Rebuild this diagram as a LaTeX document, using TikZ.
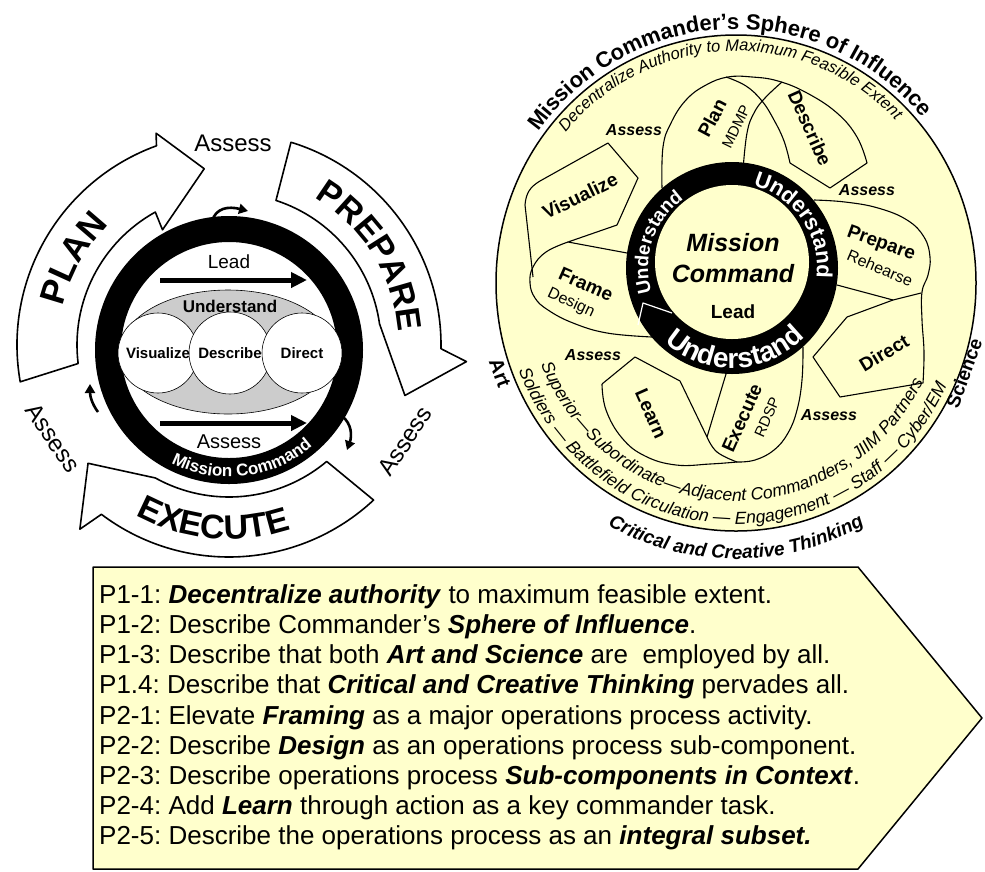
\documentclass[tikz,border=0pt]{standalone}
\usepackage{fontspec}
\setmainfont{Liberation Sans}
\usetikzlibrary{decorations.text,arrows.meta,calc}
\definecolor{pale}{RGB}{255,255,204}
\newcommand{\fsz}[1]{\fontsize{#1}{#1}\selectfont}
\newcommand{\bfit}[1]{\textbf{\textit{#1}}}
\begin{document}
\frenchspacing
\begin{tikzpicture}[x=1pt,y=1pt,line join=round,
  band/.style={draw=black,fill=white,line width=1.6},
  petal/.style={draw=black,line width=1.1},
  thickarrow/.style={line width=5,-{Triangle[length=16,width=15]}},
  ringarrow/.style={line width=2.6,-{Triangle[length=9,width=10]}},
  circ/.style={draw=black,fill=white,line width=0.6},
  boxline/.style={anchor=west,inner sep=0,font=\fsz{26}},
  asr/.style={font=\bfseries\itshape\fsz{16}},
  ptxt/.style={font=\bfseries\fsz{19}},
  psub/.style={font=\fsz{15}}]
\useasboundingbox (0,0) rectangle (985,-871);

% ================= LEFT DIAGRAM =================
\coordinate (C) at (229,-345);
\coordinate (R) at (229,-350);
% PLAN band
\draw[band] ($(C)+(190:212)$) arc[start angle=190,end angle=110,radius=212]
  -- ($(C)+(109:224)$) -- ($(C)+(98:178)$) -- ($(C)+(120:133)$) -- ($(C)+(119:152)$)
  arc[start angle=119,end angle=187,radius=152] -- cycle;
% PREPARE band
\draw[band] ($(C)+(73:212)$) arc[start angle=73,end angle=-1,radius=212]
  -- ($(C)+(-4:238)$) -- ($(C)+(-16:183)$) -- ($(C)+(8:152)$)
  arc[start angle=8,end angle=72,radius=152] -- cycle;
% EXECUTE band
\draw[band] ($(C)+(-47:212)$) arc[start angle=-47,end angle=-127,radius=212]
  -- ($(C)+(-129:237)$) -- ($(C)+(-140:184)$) -- ($(C)+(-119:152)$)
  arc[start angle=-119,end angle=-50,radius=152] -- cycle;
\path[decorate,decoration={text along path,text align=center,text={|\bfseries\fsz{35}|PLAN}}]
  ($(C)+(185:170)$) arc[start angle=185,end angle=117,radius=170];
\path[decorate,decoration={text along path,text align=center,text={|\bfseries\fsz{34}|PREPARE}}]
  ($(C)+(78:170)$) arc[start angle=78,end angle=-14,radius=170];
\path[decorate,decoration={text along path,text align=center,text={|\bfseries\fsz{34}|EXECUTE}}]
  ($(C)+(-140:194)$) arc[start angle=-140,end angle=-50,radius=194];

\node[font=\fsz{24}] (as1) at (233,-143) {Assess};
\node[font=\fsz{24},rotate=-56] (as2) at (53,-438) {Assess};
\node[font=\fsz{24},rotate=57] (as3) at (405,-441) {Assess};

% ring
\draw[line width=26] (R) circle[radius=121];
% ellipse + circles
\draw[fill=black!20,line width=0.6] (228,-352) ellipse[x radius=108,y radius=62];
\node[circ,circle,minimum size=80] (cv) at (158,-353) {};
\node[circ,circle,minimum size=82] (cd) at (230,-353) {};
\node[circ,circle,minimum size=80] (cr) at (302,-353) {};
\node[font=\bfseries\fsz{15}] at (cv) {Visualize};
\node[font=\bfseries\fsz{15}] at (cd) {Describe};
\node[font=\bfseries\fsz{15}] at (cr) {Direct};
\node[font=\bfseries\fsz{17}] (und) at (230,-306) {Understand};
\node[font=\fsz{19}] (lead) at (229,-262) {Lead};
\coordinate (la1) at (160,-280); \coordinate (la2) at (307,-280);
\draw[thickarrow] (la1) -- (la2);
\coordinate (aa1) at (160,-423); \coordinate (aa2) at (307,-423);
\draw[thickarrow] (aa1) -- (aa2);
\node[font=\fsz{20}] (as4) at (229,-442) {Assess};
\path[decorate,decoration={text along path,text align=center,text color=white,
  text={|\bfseries\fsz{17}|Mission Command}}]
  ($(R)+(-133:127)$) arc[start angle=-133,end angle=-33,radius=127];
% small ring arrows
\coordinate (t1) at (212,-221); \coordinate (t2) at (248,-211);
\draw[ringarrow] (t1) .. controls (216,-208) and (228,-206) .. (t2);
\coordinate (r1) at (342,-416); \coordinate (r2) at (347,-450);
\draw[ringarrow] (r1) .. controls (352,-424) and (352,-436) .. (r2);
\coordinate (l1) at (98,-412); \coordinate (l2) at (90,-384);
\draw[ringarrow] (l1) .. controls (92,-404) and (90,-396) .. (l2);

% ================= RIGHT DIAGRAM =================
\coordinate (E) at (736,-283);
\coordinate (Q) at (732,-268);
\draw[fill=pale,line width=1.5] (E) ellipse[x radius=240,y radius=248];
% petals
\draw[petal] (533,-277) -- (525,-205) .. controls (526,-193) and (530,-187) .. (540,-181)
  -- (608,-143) -- (638,-178) -- (617,-225) -- (568,-242) -- (627,-253);
\draw[petal] plot[smooth,tension=0.7] coordinates {(568,-242) (546,-252) (533,-267) (530,-283) (535,-298) (548,-310) (573,-323) (607,-333) (652,-337)};
\draw[petal] plot[smooth,tension=0.7] coordinates {(662,-188) (663,-147) (671,-123) (686,-100) (706,-85) (728,-77) (752,-77) (778,-81) (807,-93) (837,-113) (857,-137) (867,-163)} -- (830,-188) -- (790,-163);
\draw[petal] plot[smooth,tension=0.7] coordinates {(790,-163) (784,-141) (774,-120) (762,-101) (746,-86) (726,-77)};
\draw[petal] plot[smooth,tension=0.7] coordinates {(743,-170) (747,-133) (754,-113) (765,-98) (782,-82)};
\draw[petal] plot[smooth,tension=0.7] coordinates {(814,-200) (845,-202) (878,-208) (907,-220) (924,-237) (930,-257) (928,-275) (922,-292) (922,-320) (924,-352) (923,-383)} -- (840,-397) -- (813,-357) -- (847,-317) -- (893,-300);
\draw[petal] (837,-285) -- (893,-300) -- (921,-293);
\draw[petal] plot[smooth,tension=0.7] coordinates {(803,-347) (802,-380) (797,-410) (788,-433) (774,-450) (755,-460) (737,-462)};
\draw[petal] (726,-374) -- (707,-437);
\draw[petal] (707,-437) -- (680,-381) -- (635,-357) -- (602,-384);
\draw[petal] plot[smooth,tension=0.7] coordinates {(602,-384) (606,-410) (622,-438) (645,-456) (676,-465) (710,-464) (737,-462)};
\draw[petal] plot[smooth,tension=0.7] coordinates {(707,-437) (717,-452) (737,-462)};
% black ring
\fill[black] (Q) circle[radius=106];
\fill[pale] (732,-262) circle[radius=77];
\draw[white,line width=1.2] (638,-325) -- (643,-303) -- (672,-313);
\path[decorate,decoration={text along path,text align=center,text color=white,
  text={|\bfseries\fsz{22}|Understand}}]
  ($(Q)+(94:85)$) arc[start angle=94,end angle=-25,radius=85];
\path[decorate,decoration={text along path,text align=center,text color=white,
  text={|\bfseries\fsz{19}|Understand}}]
  ($(Q)+(221:84)$) arc[start angle=221,end angle=101,radius=84];
\path[decorate,decoration={text along path,text align=center,text color=white,
  text={|\bfseries\fsz{28}|Understand}}]
  ($(Q)+(-158:100)$) arc[start angle=-158,end angle=-18,radius=100];
% centre
\node[font=\bfseries\itshape\fsz{25}] (mis) at (733,-243) {Mission};
\node[font=\bfseries\itshape\fsz{25}] (cmd) at (733,-274) {Command};
\node[font=\bfseries\fsz{19}] (rlead) at (733,-312) {Lead};
% petal labels
\node[ptxt,rotate=26] (vis) at (580,-196) {Visualize};
\node[ptxt,rotate=62] (pln) at (712,-118) {Plan};
\node[psub,rotate=64] (mdmp) at (736,-127) {MDMP};
\node[ptxt,rotate=-66] (dsc) at (810,-128) {Describe};
\node[ptxt,rotate=-20] (prp) at (881,-244) {Prepare};
\node[psub,font=\fsz{16},rotate=-23] (reh) at (880,-268) {Rehearse};
\node[ptxt,rotate=-24] (frm) at (586,-284) {Frame};
\node[psub,font=\fsz{16},rotate=-25] (dsg) at (571,-303) {Design};
\node[ptxt,rotate=31] (dir) at (884,-353) {Direct};
\node[ptxt,rotate=-66] (lrn) at (651,-414) {Learn};
\node[ptxt,rotate=66] (exe) at (742,-418) {Execute};
\node[psub,rotate=66] (rdsp) at (767,-417) {RDSP};
\node[asr] (ra1) at (634,-130) {Assess};
\node[asr] (ra2) at (867,-190) {Assess};
\node[asr] (ra3) at (593,-355) {Assess};
\node[asr] (ra4) at (829,-415) {Assess};
% around texts
\path[decorate,decoration={text along path,text align=center,
  text={|\bfseries\fsz{22}|Mission Commander’s Sphere of Influence}}]
  ($(E)+(175:246 and 254)$) arc[start angle=175,end angle=9,x radius=246,y radius=254];
\path[decorate,decoration={text along path,text align=center,
  text={|\itshape\fsz{16.5}|Decentralize Authority to Maximum Feasible Extent}}]
  ($(E)+(170:224 and 232)$) arc[start angle=170,end angle=14,x radius=224,y radius=232];
\path[decorate,decoration={text along path,text align=center,
  text={|\itshape\fsz{17.5}|Superior—Subordinate—Adjacent Commanders, JIIM Partners}}]
  ($(E)+(-177:210 and 218)$) arc[start angle=-177,end angle=-8,x radius=210,y radius=218];
\path[decorate,decoration={text along path,text align=center,
  text={|\itshape\fsz{17.5}|Soldiers — Battlefield Circulation — Engagement — Staff — Cyber/EM}}]
  ($(E)+(-179:233 and 241)$) arc[start angle=-179,end angle=-5,x radius=233,y radius=241];
\path[decorate,decoration={text along path,text align=center,
  text={|\bfseries\itshape\fsz{19}|Critical and Creative Thinking}}]
  ($(E)+(-135:268 and 276)$) arc[start angle=-135,end angle=-45,x radius=268,y radius=276];
\node[font=\bfseries\fsz{20},rotate=-70] (art) at (500,-373) {Art};
\node[font=\bfseries\fsz{19},rotate=70] (sci) at (964,-373) {Science};

% ================= BOTTOM BOX =================
\draw[fill=pale,line width=1.5] (93,-567) -- (858,-567) -- (982,-718) -- (858,-869) -- (93,-869) -- cycle;
\node[boxline] (p11) at (99,-597) {P1-1: \bfit{Decentralize authority} to maximum feasible extent.};
\node[boxline] (p12) at (99,-627) {P1-2: Describe Commander’s \bfit{Sphere of Influence}.};
\node[boxline] (p13) at (99,-657) {P1-3: Describe that both \bfit{Art and Science} are\ \ employed by all.};
\node[boxline] (p14) at (99,-687) {P1.4: Describe that \bfit{Critical and Creative Thinking} pervades all.};
\node[boxline] (p21) at (99,-718) {P2-1: Elevate \bfit{Framing} as a major operations process activity.};
\node[boxline] (p22) at (99,-748) {P2-2: Describe \bfit{Design} as an operations process sub-component.};
\node[boxline] (p23) at (99,-778) {P2-3: Describe operations process \bfit{Sub-components in Context}.};
\node[boxline] (p24) at (99,-808) {P2-4: Add \bfit{Learn} through action as a key commander task.};
\node[boxline] (p25) at (99,-838) {P2-5: Describe the operations process as an \bfit{integral subset.}};
\end{tikzpicture}
\end{document}
